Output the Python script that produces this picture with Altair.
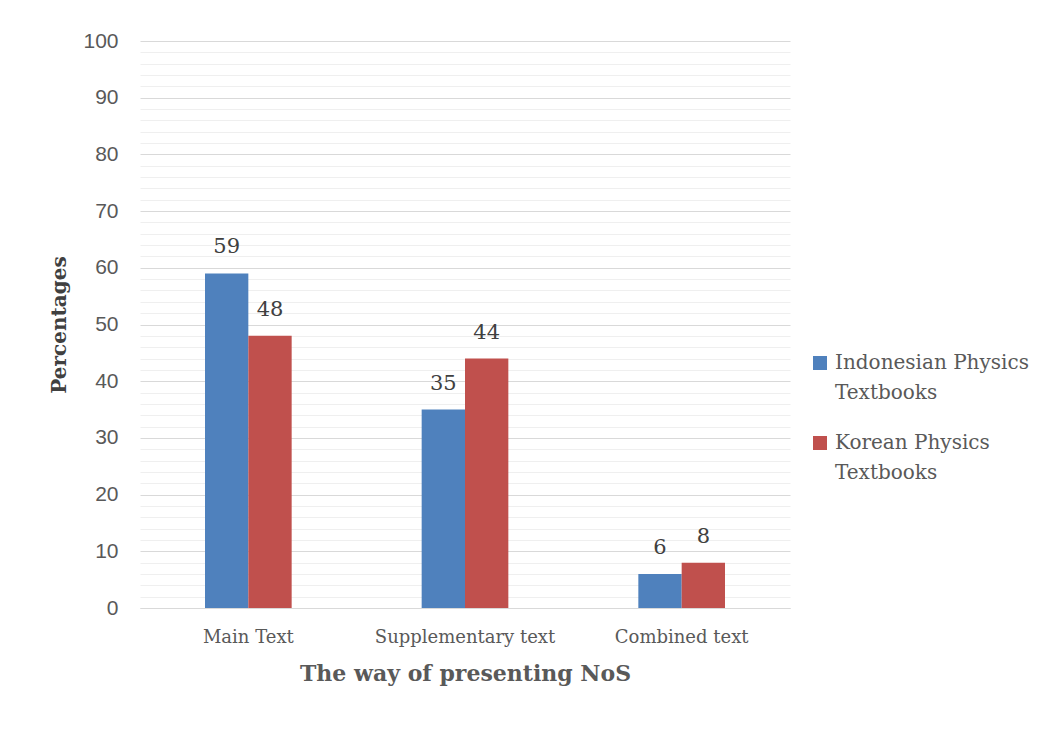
import altair as alt
import pandas as pd

categories = ["Main Text", "Supplementary text", "Combined text"]
series = ["Indonesian Physics Textbooks", "Korean Physics Textbooks"]
indonesian = [59, 35, 6]
korean = [48, 44, 8]
colors = ["#4F81BD", "#C0504D"]

rows = []
for c, a, b in zip(categories, indonesian, korean):
    rows.append({"cat": c, "series": series[0], "value": a})
    rows.append({"cat": c, "series": series[1], "value": b})
df = pd.DataFrame(rows)

serif = "DejaVu Serif"
sans = "Liberation Sans"
tick_values = list(range(0, 101, 2))

x = alt.X("cat:N", sort=categories,
          scale=alt.Scale(paddingInner=0.6, paddingOuter=0.3),
          axis=alt.Axis(title="The way of presenting NoS", labelAngle=0, labelFont=serif,
                        labelFontSize=18, labelColor="#595959", labelPadding=20,
                        labelLimit=400,
                        titleFont=serif, titleFontSize=22, titleFontWeight="bold",
                        titleColor="#595959", titlePadding=17, ticks=False,
                        domainColor="#d9d9d9", grid=False))
y = alt.Y("value:Q", scale=alt.Scale(domain=[0, 100], nice=False),
          axis=alt.Axis(title="Percentages", values=tick_values, tickCount=len(tick_values),
                        labelExpr="datum.value % 10 === 0 ? datum.label : ''",
                        labelOverlap=False, labelFlush=False,
                        labelFont=sans, labelFontSize=21, labelColor="#595959",
                        labelPadding=22, ticks=False, domain=False,
                        gridColor=alt.condition("datum.value % 10 === 0",
                                                alt.value("#d9d9d9"), alt.value("#efefef")),
                        titleFont=serif, titleFontSize=20, titleFontWeight="bold",
                        titleColor="#404040", titlePadding=13))

color = alt.Color("series:N", sort=series,
                  scale=alt.Scale(domain=series, range=colors),
                  legend=alt.Legend(title=None, orient="none", legendX=670, legendY=312,
                                    symbolType="square", symbolSize=196, symbolStrokeWidth=0,
                                    labelFont=serif, labelFontSize=20, labelColor="#595959",
                                    rowPadding=30, labelLimit=400, labelOffset=5,
                                    labelExpr="split(replace(datum.label, ' Textbooks', '|Textbooks'), '|')"))

bars = alt.Chart(df).mark_bar().encode(
    x=x, y=y, color=color,
    xOffset=alt.XOffset("series:N", sort=series),
)
text = alt.Chart(df).mark_text(baseline="alphabetic", dy=-20, font=serif, fontSize=21,
                               color="#404040").encode(
    x=alt.X("cat:N", sort=categories),
    y=alt.Y("value:Q"),
    xOffset=alt.XOffset("series:N", sort=series),
    text="value:Q",
)

chart = alt.layer(bars, text).properties(
    width=650, height=567,
    padding={"top": 22, "left": 41, "right": 0, "bottom": 5},
).configure(
    background="white",
    view={"stroke": "transparent", "strokeWidth": 0},
    style={"guide-label": {"lineHeight": 30}},
)

chart.save("out.html", embed_options={"renderer": "svg", "actions": False})
